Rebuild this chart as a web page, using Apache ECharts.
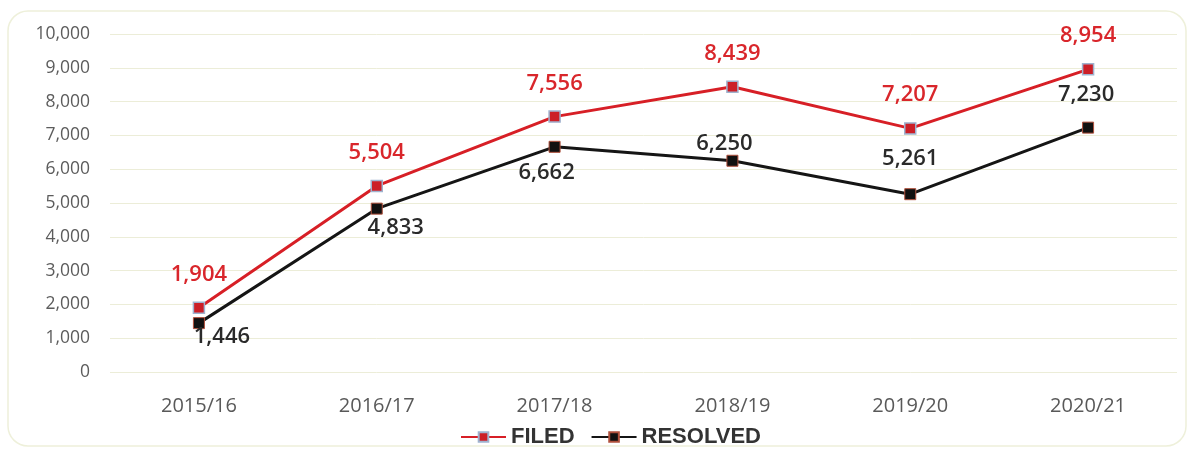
<!DOCTYPE html>
<html>
<head>
<meta charset="utf-8">
<script src="https://cdn.jsdelivr.net/npm/echarts@6/dist/echarts.min.js"></script>
<style>
  html, body { margin: 0; padding: 0; background: #ffffff; }
  #chart { width: 1193px; height: 449px; }
</style>
</head>
<body>
<div id="chart"></div>
<script>
// Fiscal years on the category axis
const years = ['2015/16', '2016/17', '2017/18', '2018/19', '2019/20', '2020/21'];
// Cases filed and resolved per year
const filed = [1904, 5504, 7556, 8439, 7207, 8954];
const resolved = [1446, 4833, 6662, 6250, 5261, 7230];

// Label placement for the resolved series, kept apart from the values
const resolvedLabelSide = ['bottom', 'bottom', 'bottom', 'top', 'top', 'top'];
const resolvedLabelShift = [[23, -3], [19, 2], [-8, 9], [-8, 0], [0, -18], [-2, -16]];

const FONT = '"Open Sans", "Noto Sans", sans-serif';
const fmt = v => v.toLocaleString('en-US');

const chart = echarts.init(document.getElementById('chart'), null, { renderer: 'canvas' });

chart.setOption({
  backgroundColor: '#ffffff',
  animation: false,
  graphic: [{
    type: 'rect',
    shape: { x: 8, y: 11, width: 1178, height: 435, r: 20 },
    style: { fill: 'none', stroke: '#eef0da', lineWidth: 1.5 },
    z: -1
  }],
  grid: { left: 110, right: 16, top: 34, bottom: 77 },
  legend: {
    top: 421,
    left: 455,
    itemWidth: 45,
    itemHeight: 12,
    itemGap: 16,
    textStyle: { fontFamily: '"Liberation Sans", Arial, sans-serif', fontSize: 22, fontWeight: 'bold', color: '#333333' },
    data: ['FILED', 'RESOLVED']
  },
  xAxis: {
    type: 'category',
    data: years,
    boundaryGap: true,
    axisLine: { show: false },
    axisTick: { show: false },
    axisLabel: { fontFamily: FONT, fontSize: 20, color: '#595959', margin: 24 }
  },
  yAxis: {
    type: 'value',
    min: 0,
    max: 10000,
    interval: 1000,
    axisLine: { show: false },
    axisTick: { show: false },
    splitLine: { lineStyle: { color: '#ecedd8', width: 1 } },
    axisLabel: {
      fontFamily: FONT, fontSize: 17.5, color: '#5c5c5c', margin: 20,
      formatter: v => fmt(v)
    }
  },
  series: [
    {
      name: 'FILED',
      type: 'line',
      data: filed,
      symbol: 'rect',
      symbolSize: 11,
      lineStyle: { color: '#d71f26', width: 3 },
      itemStyle: { color: '#cc1f27', borderColor: '#9fb3cf', borderWidth: 1.5 },
      label: {
        show: true,
        position: 'top',
        distance: 16,
        fontFamily: FONT, fontSize: 22, fontWeight: 600, color: '#d9262b',
        formatter: p => fmt(p.value)
      },
      z: 3
    },
    {
      name: 'RESOLVED',
      type: 'line',
      data: resolved.map((v, i) => ({
        value: v,
        label: { position: resolvedLabelSide[i], offset: resolvedLabelShift[i] }
      })),
      symbol: 'rect',
      symbolSize: 11,
      lineStyle: { color: '#151515', width: 3 },
      itemStyle: { color: '#111111', borderColor: '#b0503c', borderWidth: 1 },
      label: {
        show: true,
        distance: 0,
        fontFamily: FONT, fontSize: 22, fontWeight: 600, color: '#2a2a2a',
        formatter: p => fmt(p.value)
      },
      z: 2
    }
  ]
});
</script>
</body>
</html>
